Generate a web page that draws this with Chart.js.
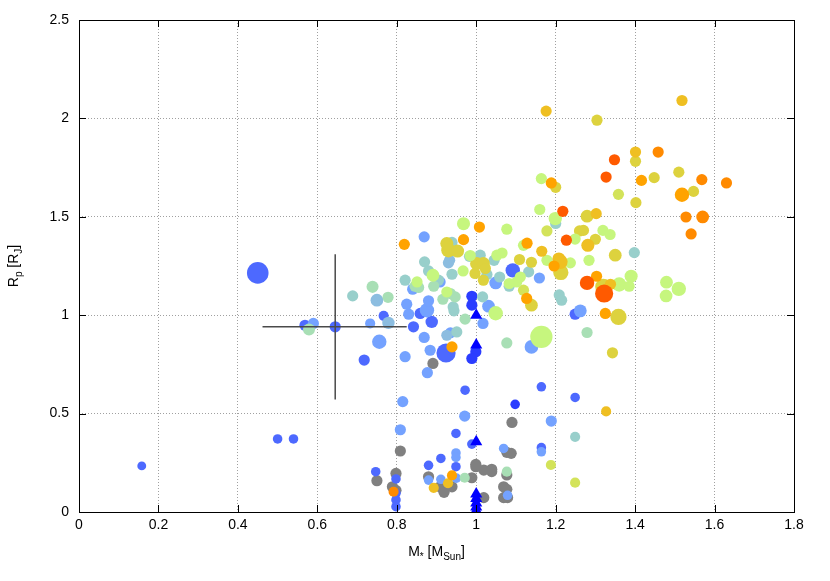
<!DOCTYPE html>
<html>
<head>
<meta charset="utf-8">
<title>Rp vs M*</title>
<script src="https://cdn.jsdelivr.net/npm/chart.js@4.4.1/dist/chart.umd.min.js"></script>
<style>
  html, body { margin: 0; padding: 0; background: #fff; }
</style>
</head>
<body>
<canvas id="myChart" width="830" height="581"></canvas>
<script>
// each point: [host star mass (MSun), planet radius (RJ), planet mass (MJ, optional, default 1)]
// grouped by equilibrium temperature bin
const binLabels = ["< 500 K", "500-700 K", "700-900 K", "900-1000 K", "1000-1100 K", "1100-1200 K",
  "1200-1400 K", "1400-1500 K", "1500-1700 K", "1700-1850 K", "1850-2000 K", "2000-2200 K", "> 2200 K"];

const teqBin0 = [[0.989, 1.096], [0.989, 1.051], [0.999, 0.814], [0.989, 0.780], [1.098, 0.547, 0.7]];
const teqBin1 = [[0.450, 1.215, 9.5], [0.569, 0.949], [0.645, 0.941], [0.718, 0.772], [0.767, 0.997, 0.8],
  [0.842, 0.941], [0.859, 1.009], [0.888, 0.966, 1.3], [0.924, 0.808, 5.6], [0.500, 0.371, 0.7],
  [0.540, 0.371, 0.7], [0.158, 0.234, 0.6], [0.747, 0.205, 0.7], [0.972, 0.619, 0.7], [0.949, 0.399, 0.7],
  [0.989, 0.345, 0.7], [0.911, 0.272, 0.7], [0.880, 0.237, 0.7], [0.949, 0.230, 0.7], [0.798, 0.168, 0.7],
  [0.798, 0.095, 0.7], [0.798, 0.061, 0.7], [0.798, 0.027, 0.7], [1.164, 0.636, 0.7], [1.249, 0.582, 0.7],
  [1.164, 0.327, 0.7], [1.249, 1.005], [1.092, 1.228, 2]];
const teqBin2 = [[0.590, 0.958], [0.733, 0.958, 0.8], [0.756, 0.865, 2], [0.821, 0.789], [0.830, 1.005],
  [0.825, 1.056], [0.876, 1.025, 2], [0.880, 1.073], [0.869, 0.887], [0.884, 0.822], [0.909, 1.169],
  [0.869, 1.398], [0.935, 0.910], [1.049, 1.164, 1.4], [1.031, 1.046, 1.4], [1.017, 0.958], [1.159, 1.189],
  [1.262, 1.022, 1.4], [1.139, 0.839, 1.7], [0.877, 0.708], [0.815, 0.561], [0.971, 0.487], [1.189, 0.462],
  [0.809, 0.418], [0.949, 0.300, 0.7], [0.949, 0.277, 0.7], [1.069, 0.323, 0.7], [1.164, 0.306, 0.7],
  [0.880, 0.162, 0.7], [0.911, 0.166, 0.7], [0.950, 0.172, 0.7], [1.079, 0.085, 0.7], [0.840, 1.132]];
const teqBin3 = [[0.750, 1.076, 1.4], [0.779, 0.961, 1.3], [0.933, 1.279], [0.930, 1.266], [0.926, 0.898]];
const teqBin4 = [[0.689, 1.098], [0.870, 1.271], [0.821, 1.178], [0.880, 1.225], [0.939, 1.370],
  [0.939, 1.208], [1.010, 1.305], [1.027, 1.207], [1.045, 1.279], [1.016, 1.093], [0.951, 0.915],
  [0.944, 1.022], [0.942, 1.042], [1.083, 1.147], [1.132, 1.220], [1.209, 1.103], [1.215, 1.076],
  [1.398, 1.318], [1.249, 0.382, 0.8], [1.059, 1.194], [0.905, 1.178], [0.983, 1.299], [1.200, 1.466]];
const teqBin5 = [[0.579, 0.927, 1.2], [0.739, 1.144, 1.2], [0.778, 1.091], [0.846, 1.147], [0.893, 1.147],
  [0.935, 1.110], [0.947, 1.093], [0.972, 0.980], [1.077, 0.859], [1.279, 0.912], [0.971, 0.174, 0.8],
  [1.077, 0.205, 0.8], [0.916, 1.081], [0.855, 1.141]];
const teqBin6 = [[0.968, 1.465, 1.5], [1.077, 1.437], [0.985, 1.303], [1.052, 1.305], [1.065, 1.316],
  [1.119, 1.355], [1.178, 1.279], [1.237, 1.266], [1.249, 1.387], [1.319, 1.431], [1.337, 1.410],
  [1.164, 1.694], [1.160, 1.537], [1.199, 1.491, 1.6], [1.049, 1.010, 2], [1.164, 0.890, 11],
  [0.967, 1.225], [0.891, 1.203, 1.4], [1.102, 1.169], [1.111, 1.194], [1.360, 1.156, 2], [1.385, 1.147],
  [1.390, 1.198, 1.5], [1.479, 1.168, 1.4], [1.510, 1.134, 2], [1.478, 1.098, 1.4], [1.284, 1.279],
  [0.926, 1.118], [1.083, 1.161], [0.851, 1.169]];
const teqBin7 = [[1.358, 1.614], [1.178, 1.428], [1.188, 0.239, 0.8], [1.249, 0.149, 0.8], [1.119, 1.127]];
const teqBin8 = [[0.926, 1.364, 1.5], [0.930, 1.330, 2], [0.953, 1.326, 1.5], [1.001, 1.262, 1.5],
  [1.018, 1.262, 1.5], [1.023, 1.237], [1.109, 1.283], [1.139, 1.269], [1.260, 1.428], [1.270, 1.431],
  [0.997, 1.212], [1.018, 1.178], [1.200, 1.650], [1.402, 1.572], [1.547, 1.629], [1.510, 1.727],
  [1.448, 1.699], [1.401, 1.782], [1.304, 1.991], [1.279, 1.503, 1.4], [1.350, 1.305, 1.4],
  [1.213, 1.217, 2.4], [1.320, 1.144, 3], [1.139, 1.051, 1.4], [1.358, 0.991, 3], [1.343, 0.809], [1.300, 1.386]];
const teqBin9 = [[1.176, 2.037], [1.518, 2.091], [1.401, 1.829], [1.302, 1.516], [1.165, 1.325],
  [1.338, 1.157], [1.327, 0.511, 0.8], [0.893, 0.123, 0.8], [0.929, 0.146, 0.8], [1.208, 1.286, 1.5],
  [1.281, 1.355, 1.5], [1.212, 1.271, 2]];
const teqBin10 = [[0.819, 1.360], [1.008, 1.448], [0.968, 1.384], [1.189, 1.672], [1.416, 1.685],
  [1.518, 1.612, 2], [1.196, 1.250], [1.303, 1.198], [1.325, 1.009], [0.939, 0.839], [0.939, 0.186, 0.8],
  [1.127, 1.085], [1.128, 1.366]];
const teqBin11 = [[1.458, 1.829], [1.568, 1.689], [1.528, 1.499], [1.570, 1.499, 1.4], [1.541, 1.413],
  [1.630, 1.672], [0.792, 0.103, 0.8]];
const teqBin12 = [[1.348, 1.790], [1.327, 1.702], [1.218, 1.528], [1.227, 1.381], [1.279, 1.164, 2],
  [1.322, 1.110, 4.5]];

// no temperature available
const noTeq = [[0.891, 0.755, 1], [1.090, 0.455], [0.809, 0.310], [1.077, 0.303], [1.088, 0.298],
  [0.999, 0.230], [0.999, 0.242], [1.019, 0.213], [1.039, 0.217], [1.039, 0.205], [0.798, 0.196],
  [0.880, 0.179], [0.989, 0.174], [1.077, 0.188], [0.789, 0.128], [0.909, 0.128], [0.919, 0.100],
  [0.939, 0.128], [1.019, 0.073], [1.069, 0.128], [1.077, 0.115], [1.069, 0.073], [1.079, 0.073],
  [0.750, 0.159], [0.798, 0.110]];

// candidates with assumed solar mass host
const candMass = [1, 1, 1, 1, 1, 1, 1, 1];
const candRadius = [1.0, 0.848, 0.357, 0.091, 0.068, 0.046, 0.026, 0.008];

// target with error bars
const target = [0.645, 0.941];
const targetMassRange = [0.462, 0.825];
const targetRadiusRange = [0.572, 1.310];

const xTicks = [0, 0.2, 0.4, 0.6, 0.8, 1, 1.2, 1.4, 1.6, 1.8];
const yTicks = [0, 0.5, 1, 1.5, 2, 2.5];

const binColors = ["#2b3dff", "#4d69ff", "#74a2ff", "#8cbde0", "#98cfcb", "#a8dfb5", "#c6f67e",
  "#d3e35a", "#ddd23e", "#efbf22", "#ffa300", "#ff8a00", "#ff5a00"];
const binOrder = [3, 4, 5, 6, 7, 9, 12, 11, 10, 13, 14, 15, 16];

const FONT = "'Liberation Sans', Arial, Helvetica, sans-serif";

function radiusFor(m) {
  const r = 5.6 + 1.6 * Math.log2(m || 1);
  return Math.max(4.3, Math.min(11.5, r));
}

function toPoints(list) {
  return list.map((p) => ({ x: p[0], y: p[1], m: p[2] || 1 }));
}

const bins = [teqBin0, teqBin1, teqBin2, teqBin3, teqBin4, teqBin5, teqBin6, teqBin7,
  teqBin8, teqBin9, teqBin10, teqBin11, teqBin12];

const datasets = [];
datasets.push({
  label: "no Teq",
  data: toPoints(noTeq),
  pointBackgroundColor: "#808080",
  order: 20,
});
bins.forEach((b, i) => {
  datasets.push({
    label: binLabels[i],
    data: toPoints(b),
    pointBackgroundColor: binColors[i],
    order: 20 - binOrder[i],
  });
});
datasets.push({
  label: "candidates",
  data: candMass.map((m, i) => ({ x: m, y: candRadius[i], m: 1 })),
  pointBackgroundColor: "#0000ff",
  pointStyle: "triangle",
  pointRadius: 7,
  order: 0,
});

function drawRich(ctx, parts, x, y, align) {
  const big = "14px " + FONT, small = "10px " + FONT;
  let w = 0;
  parts.forEach((p) => { ctx.font = p.sub ? small : big; w += ctx.measureText(p.t).width; });
  let cx = align === "center" ? x - w / 2 : x;
  parts.forEach((p) => {
    ctx.font = p.sub ? small : big;
    ctx.fillText(p.t, cx, y + (p.sub ? 4 : 0));
    cx += ctx.measureText(p.t).width;
  });
}

const decor = {
  id: "decor",
  afterDatasetsDraw(chart) {
    const { ctx, scales: { x, y } } = chart;
    ctx.save();
    ctx.strokeStyle = "#4a4a4a";
    ctx.lineWidth = 1.5;
    ctx.beginPath();
    ctx.moveTo(x.getPixelForValue(targetMassRange[0]), y.getPixelForValue(target[1]));
    ctx.lineTo(x.getPixelForValue(targetMassRange[1]), y.getPixelForValue(target[1]));
    ctx.moveTo(x.getPixelForValue(target[0]), y.getPixelForValue(targetRadiusRange[0]));
    ctx.lineTo(x.getPixelForValue(target[0]), y.getPixelForValue(targetRadiusRange[1]));
    ctx.stroke();
    ctx.restore();
  },
  afterDraw(chart) {
    const { ctx, chartArea: a, scales: { x, y } } = chart;
    ctx.save();
    ctx.strokeStyle = "#000";
    ctx.lineWidth = 1;
    ctx.strokeRect(Math.round(a.left) + 0.5, Math.round(a.top) + 0.5,
      Math.round(a.right - a.left), Math.round(a.bottom - a.top));
    // inward tick marks on all four sides
    ctx.beginPath();
    xTicks.forEach((v) => {
      const px = Math.round(x.getPixelForValue(v)) + 0.5;
      ctx.moveTo(px, a.bottom); ctx.lineTo(px, a.bottom - 7);
      ctx.moveTo(px, a.top); ctx.lineTo(px, a.top + 7);
    });
    yTicks.forEach((v) => {
      const py = Math.round(y.getPixelForValue(v)) + 0.5;
      ctx.moveTo(a.left, py); ctx.lineTo(a.left + 7, py);
      ctx.moveTo(a.right, py); ctx.lineTo(a.right - 7, py);
    });
    ctx.stroke();

    // axis titles with subscripts
    ctx.fillStyle = "#000";
    ctx.textBaseline = "alphabetic";
    ctx.textAlign = "left";
    drawRich(ctx, [{ t: "M" }, { t: "*", sub: true }, { t: " [M" }, { t: "Sun", sub: true }, { t: "]" }],
      (a.left + a.right) / 2, 556, "center");
    ctx.translate(18, (a.top + a.bottom) / 2);
    ctx.rotate(-Math.PI / 2);
    drawRich(ctx, [{ t: "R" }, { t: "p", sub: true }, { t: " [R" }, { t: "J", sub: true }, { t: "]" }],
      0, 0, "center");
    ctx.restore();
  },
};

const ctx = document.getElementById("myChart").getContext("2d");
const myChart = new Chart(ctx, {
  type: "scatter",
  data: { datasets: datasets },
  options: {
    responsive: false,
    animation: false,
    events: [],
    layout: { padding: { top: 20, right: 36, left: 0, bottom: 0 } },
    elements: {
      point: {
        radius: (c) => radiusFor(c.raw && c.raw.m),
        borderWidth: 0,
      },
    },
    plugins: {
      legend: { display: false },
      tooltip: { enabled: false },
    },
    scales: {
      x: {
        type: "linear",
        min: 0,
        max: 1.8,
        afterFit: (s) => { s.height = 69; },
        afterBuildTicks: (s) => { s.ticks = xTicks.map((v) => ({ value: v })); },
        ticks: {
          color: "#000",
          font: { family: FONT, size: 14 },
          padding: 5,
          maxRotation: 0,
          callback: (v) => String(Math.round(v * 10) / 10),
        },
        grid: { color: "#a0a0a0", lineWidth: 1, drawTicks: false },
        border: { display: false, dash: [1, 2] },
      },
      y: {
        type: "linear",
        min: 0,
        max: 2.5,
        afterFit: (s) => { s.width = 79; },
        afterBuildTicks: (s) => { s.ticks = yTicks.map((v) => ({ value: v })); },
        ticks: {
          color: "#000",
          font: { family: FONT, size: 14 },
          padding: 10,
          callback: (v) => String(Math.round(v * 10) / 10),
        },
        grid: { color: "#a0a0a0", lineWidth: 1, drawTicks: false },
        border: { display: false, dash: [1, 2] },
      },
    },
  },
  plugins: [decor],
});
</script>
</body>
</html>
